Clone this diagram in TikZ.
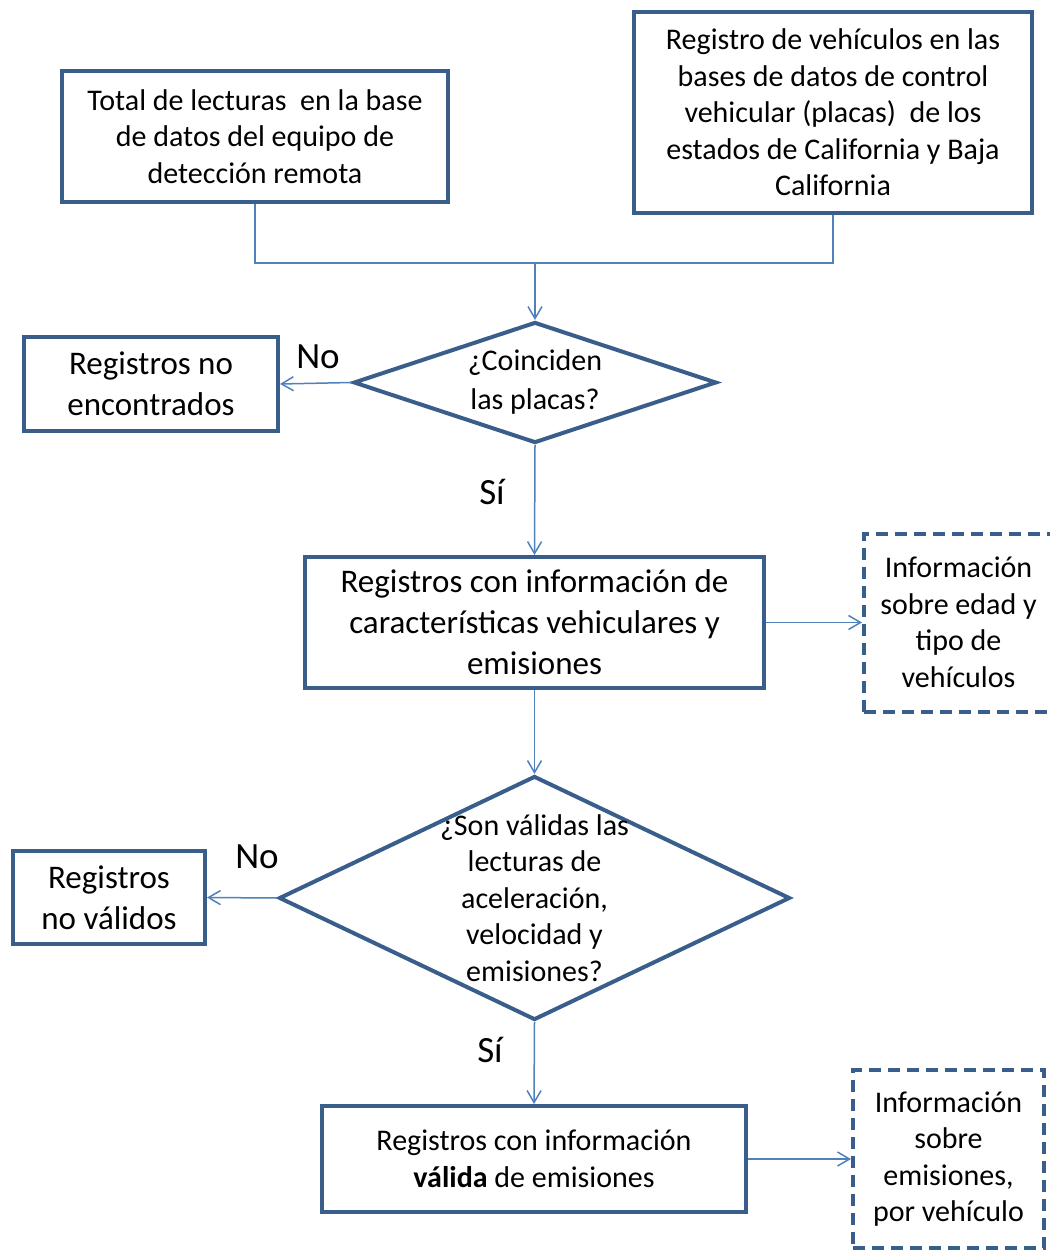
\documentclass[tikz,border=0pt]{standalone}
\usepackage{fontspec}
\setmainfont{Carlito}
\usetikzlibrary{arrows.meta,shapes.geometric}

\definecolor{boxblue}{HTML}{3A5E8C}
\definecolor{linkblue}{HTML}{4F81BD}

\begin{document}
\begin{tikzpicture}[x=0.5pt,y=-0.5pt,line join=miter,
  >={Straight Barb[length=6pt,width=7pt]},
  every node/.style={align=center,inner sep=2pt},
  small/.style={font=\fontsize{15}{18.25}\selectfont},
  large/.style={font=\fontsize{16.5}{20.5}\selectfont},
  box/.style={draw=boxblue,line width=2pt,rectangle},
  infobox/.style={box,dash pattern=on 6pt off 3.5pt},
  decision/.style={draw=boxblue,line width=2pt,diamond,inner sep=-40pt},
  link/.style={draw=linkblue,line width=0.75pt},
  tag/.style={font=\fontsize{18.5}{22}\selectfont}]
  \useasboundingbox (0,0) rectangle (1049,1251);
  % sources
  \node[box,small,minimum width=193pt,minimum height=65.5pt] (total) at (255,136.5) {Total de lecturas\ \ en la base\\de datos del equipo de\\detección remota};
  \node[box,small,minimum width=199pt,minimum height=100.5pt] (placas) at (833,112.5) {Registro de vehículos en las\\bases de datos de control\\vehicular (placas)\ \ de los\\estados de California y Baja\\California};
  % first check
  \node[decision,font=\fontsize{15}{19.5}\selectfont,minimum width=181.5pt,minimum height=60.5pt] (coinciden) at (535,382.5) {¿Coinciden\\las placas?};
  \node[box,large,minimum width=127pt,minimum height=47pt] (noenc) at (151,384) {Registros no\\encontrados};
  \node[box,large,minimum width=229.5pt,minimum height=65.5pt] (caract) at (534.5,622.5) {Registros con información de\\características vehiculares y\\emisiones};
  \node[infobox,small,minimum width=94.5pt,minimum height=89pt] (edad) at (958.5,622.5) {Información\\sobre edad y\\tipo de\\vehículos};
  % second check
  \node[decision,small,minimum width=255.5pt,minimum height=122pt] (validas) at (534.5,898) {¿Son válidas las\\lecturas de\\aceleración,\\velocidad y\\emisiones?};
  \node[box,large,minimum width=96pt,minimum height=46.5pt] (novalid) at (109,897.5) {Registros\\no válidos};
  \node[box,small,minimum width=212pt,minimum height=53pt] (validos) at (534,1159) {Registros con información\\{\bfseries válida} de emisiones};
  \node[infobox,small,minimum width=95.5pt,minimum height=89pt] (emis) at (948.5,1159) {Información\\sobre\\emisiones,\\por vehículo};
  % answers
  \node[tag] (no1) at (318,357) {No};
  \node[tag] (si1) at (492,492) {Sí};
  \node[tag] (no2) at (257,857) {No};
  \node[tag] (si2) at (490,1050) {Sí};
  % connectors
  \coordinate (merge) at (535,263);
  \draw[link] (total.south) |- (merge);
  \draw[link] (placas.south) |- (merge);
  \draw[link,->] (merge) -- (coinciden.north);
  \draw[link,->] (coinciden.west) -- (noenc.east);
  \draw[link,->] (coinciden.south) -- (caract.north);
  \draw[link,->] (caract.east) -- (edad.west);
  \draw[link,->] (caract.south) -- (validas.north);
  \draw[link,->] (validas.west) -- (novalid.east);
  \draw[link,->] (validas.south) -- (validos.north);
  \draw[link,->] (validos.east) -- (emis.west);
\end{tikzpicture}
\end{document}
